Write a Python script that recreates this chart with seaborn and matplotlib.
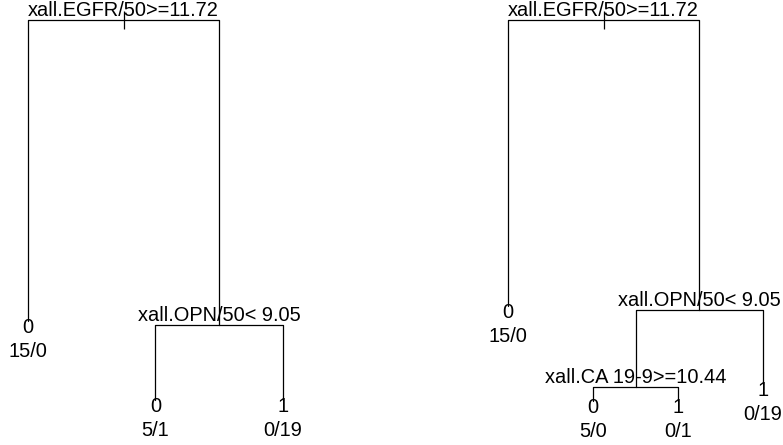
import matplotlib
matplotlib.use("Agg")
import matplotlib.pyplot as plt
import seaborn as sns
import pandas as pd

sns.set_style("white")
plt.rcParams["font.family"] = ["Liberation Sans", "DejaVu Sans"]
plt.rcParams["text.color"] = "black"

# Tree 1: rpart node numbers, labels, class counts and node heights
left_node = [1, 2, 3, 6, 7]
left_label = ["xall.EGFR/50>=11.72", "0", "xall.OPN/50< 9.05", "0", "1"]
left_counts = ["", "15/0", "", "5/1", "0/19"]
left_height = [1.0, 0.208, 0.198, 0.0, 0.0]

# Tree 2: pruned differently, with an extra CA 19-9 split
right_node = [1, 2, 3, 6, 7, 12, 13]
right_label = ["xall.EGFR/50>=11.72", "0", "xall.OPN/50< 9.05",
               "xall.CA 19-9>=10.44", "1", "0", "1"]
right_counts = ["", "15/0", "", "", "0/19", "5/0", "0/1"]
right_height = [1.0, 0.249, 0.239, 0.037, 0.045, 0.0, 0.0]

FS = 14.4


def layout(nodes):
    """Leaves get consecutive x in depth-first order; parents sit midway."""
    ns = set(nodes)
    x = {}
    counter = [0]

    def visit(n):
        if 2 * n in ns:
            visit(2 * n)
            visit(2 * n + 1)
            x[n] = (x[2 * n] + x[2 * n + 1]) / 2
        else:
            counter[0] += 1
            x[n] = counter[0]

    visit(1)
    return x


def draw_tree(ax, nodes, labels, counts, heights, xlim, ylim):
    xpos = layout(nodes)
    ypos = dict(zip(nodes, heights))
    ns = set(nodes)
    rows = []
    for n in nodes:
        if n == 1:
            continue
        p = n // 2
        pts = [(xpos[p], ypos[p]), (xpos[n], ypos[p]), (xpos[n], ypos[n])]
        for px, py in pts:
            rows.append({"x": px, "y": py, "seg": n})
    segs = pd.DataFrame(rows)
    sns.lineplot(data=segs, x="x", y="y", units="seg", estimator=None,
                 sort=False, color="black", linewidth=0.9, ax=ax,
                 legend=False)

    # root marker: short vertical tick through the root node
    ax.plot([xpos[1]], [ypos[1]], marker="|", markersize=12.5,
            markeredgewidth=0.9, color="black", linestyle="none")

    for n, lab, cnt in zip(nodes, labels, counts):
        xx, yy = xpos[n], ypos[n]
        if 2 * n in ns:
            ax.annotate(lab, (xx, yy), xytext=(0, 3), textcoords="offset points",
                        ha="center", va="baseline", fontsize=FS, color="black")
        else:
            ax.annotate(lab, (xx, yy), xytext=(0, -8.6), textcoords="offset points",
                        ha="center", va="baseline", fontsize=FS, color="black")
            ax.annotate(cnt, (xx, yy), xytext=(0, -25.9), textcoords="offset points",
                        ha="center", va="baseline", fontsize=FS, color="black")

    ax.set_xlim(*xlim)
    ax.set_ylim(*ylim)
    ax.set_axis_off()


fig = plt.figure(figsize=(7.83, 4.45), dpi=100)
ax1 = fig.add_axes([0.0, 0.0, 0.5, 1.0])
ax2 = fig.add_axes([0.5, 0.0, 0.5, 1.0])

draw_tree(ax1, left_node, left_label, left_counts, left_height,
          (0.7804, 3.851), (-0.1184, 1.0526))
draw_tree(ax2, right_node, right_label, right_counts, right_height,
          (-0.3706, 4.235), (-0.1155, 1.0525))

fig.savefig("out.png", dpi=100)
